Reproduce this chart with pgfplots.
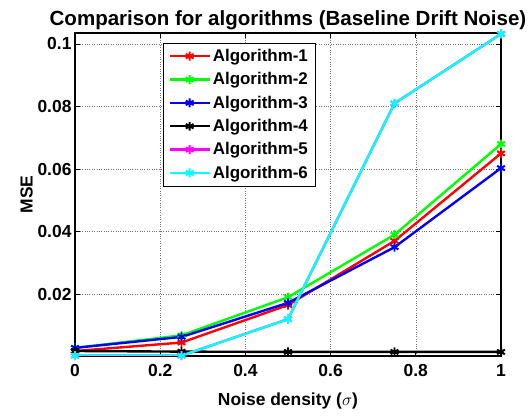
\documentclass[border=0pt]{standalone}
\usepackage{pgfplots}
\pgfplotsset{compat=1.18}
\usepackage{fontspec}
\setmainfont{Liberation Sans}
\definecolor{cR}{rgb}{1,0,0}
\definecolor{cG}{rgb}{0,1,0}
\definecolor{cB}{rgb}{0,0,1}
\definecolor{cK}{rgb}{0,0,0}
\definecolor{cM}{rgb}{1,0,1}
\definecolor{cC}{rgb}{0,1,1}
\begin{document}
\begin{tikzpicture}
\path[use as bounding box] (-75bp,-63bp) rectangle (454bp,356bp);
\begin{axis}[
  at={(0,0)}, anchor=south west,
  scale only axis, width=426bp, height=323bp,
  xmin=0, xmax=1, ymin=0.0002, ymax=0.1035,
  xtick={0,0.2,0.4,0.6,0.8,1},
  xticklabels={0,0.2,0.4,0.6,0.8,1},
  ytick={0.02,0.04,0.06,0.08,0.1},
  yticklabels={0.02,0.04,0.06,0.08,0.1},
  tick label style={font=\fontsize{17.5}{19}\selectfont\bfseries},
  xticklabel style={yshift=-5bp},
  /pgf/number format/assume math mode=true,
  tick align=inside,
  major tick length=5bp,
  axis line style={line width=1.5pt},
  every tick/.style={black, line width=0.8pt},
  grid=major,
  major grid style={dotted, black!55, line width=0.6pt},
  title={Comparison for algorithms (Baseline Drift Noise)},
  title style={font=\fontsize{20.6}{22}\selectfont\bfseries, yshift=-6bp},
  xlabel={Noise density ($\sigma$)},
  ylabel={MSE},
  label style={font=\fontsize{17.5}{19}\selectfont\bfseries},
  xlabel style={yshift=-9bp},
  ylabel style={yshift=-2bp},
  legend style={at={(0.207,0.969)}, anchor=north west, draw=black, line width=0.6pt,
    font=\fontsize{17}{19}\selectfont\bfseries, row sep=5.6bp, inner xsep=5bp, inner ysep=4bp},
  legend cell align=left,
  legend image code/.code={\draw[#1, mark repeat=2, mark phase=2] plot coordinates {(0bp,0bp) (20bp,0bp) (40bp,0bp)};},
  every axis plot/.append style={line width=2.4pt, mark=asterisk, mark size=4.5pt, mark options={line width=2pt}},
]
\addplot[cR] coordinates {(0,0.0018) (0.25,0.0045) (0.5,0.0165) (0.75,0.037) (1,0.065)};
\addlegendentry{Algorithm-1}
\addplot[cG] coordinates {(0,0.0028) (0.25,0.0068) (0.5,0.019) (0.75,0.039) (1,0.068)};
\addlegendentry{Algorithm-2}
\addplot[cB] coordinates {(0,0.0028) (0.25,0.0063) (0.5,0.0172) (0.75,0.035) (1,0.0603)};
\addlegendentry{Algorithm-3}
\addplot[cK] coordinates {(0,0.0018) (0.25,0.0016) (0.5,0.0015) (0.75,0.0015) (1,0.0015)};
\addlegendentry{Algorithm-4}
\addplot[cM] coordinates {(0,0.0003) (0.25,0.0003) (0.5,0.012) (0.75,0.081) (1,0.1032)};
\addlegendentry{Algorithm-5}
\addplot[cC] coordinates {(0,0.0003) (0.25,0.0003) (0.5,0.012) (0.75,0.081) (1,0.1032)};
\addlegendentry{Algorithm-6}
\end{axis}
\end{tikzpicture}
\end{document}
